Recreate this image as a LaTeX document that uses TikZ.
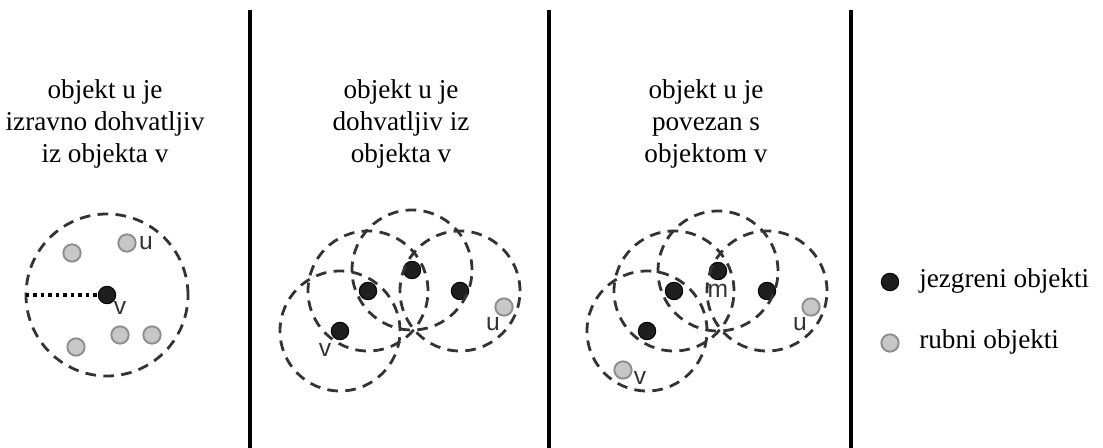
\documentclass[tikz,border=0pt]{standalone}
\usepackage{fontspec}
\setmainfont{Liberation Serif}
\newfontfamily\lblfont{Liberation Sans}
\usetikzlibrary{positioning}

\tikzset{
  core/.style   = {circle, fill=black!88, draw=black, line width=0.8pt, minimum size=13pt, inner sep=0pt},
  border/.style = {circle, fill=black!22, draw=black!45, line width=1.4pt, minimum size=13pt, inner sep=0pt},
  reach/.style  = {draw=black!80, line width=2.1pt, dash pattern=on 8pt off 5.5pt},
  wall/.style   = {line width=2.6pt},
  title/.style  = {font=\fontsize{20.4}{24}\selectfont, align=center, inner sep=0pt, anchor=north},
  lbl/.style    = {font=\lblfont\fontsize{18.5}{18.5}\selectfont, inner sep=0pt, text=black!80},
  legend/.style = {font=\fontsize{20.4}{24}\selectfont, inner sep=0pt, anchor=base west}
}

\begin{document}
\begin{tikzpicture}[x=0.75pt, y=-0.75pt]
    \useasboundingbox (0,0) rectangle (1103,448);

    % separators
    \coordinate (w1t) at (250,10);  \coordinate (w1b) at (250,448);
    \coordinate (w2t) at (549,10);  \coordinate (w2b) at (549,448);
    \coordinate (w3t) at (851,10);  \coordinate (w3b) at (851,448);
    \draw[wall] (w1t) -- (w1b);
    \draw[wall] (w2t) -- (w2b);
    \draw[wall] (w3t) -- (w3b);

    % titles
    \node[title] (t1) at (105,79) {objekt u je\\izravno dohvatljiv\\iz objekta v};
    \node[title] (t2) at (401,79) {objekt u je\\dohvatljiv iz\\objekta v};
    \node[title] (t3) at (706,79) {objekt u je\\povezan s\\objektom v};

    % panel 1
    \node[core] (v1) at (107,295) {};
    \draw[reach] (v1) circle (60.75pt);
    \coordinate (r1) at ([xshift=-60.75pt]v1.center);
    \draw[line width=2.8pt, dash pattern=on 2.6pt off 3pt] (r1) -- (v1);
    \node[border] (u1) at (127,243) {};
    \node[border] (b11) at (72,253) {};
    \node[border] (b12) at (120,335) {};
    \node[border] (b13) at (152,335) {};
    \node[border] (b14) at (76,347) {};
    \node[lbl] (v1l) at ([shift={(13,13)}]v1) {v};
    \node[lbl] (u1l) at ([shift={(19,0)}]u1) {u};

    % panel 2
    \node[core] (a2) at (340,331) {};
    \node[core] (b2) at (368,291) {};
    \node[core] (c2) at (412,270) {};
    \node[core] (d2) at (460,291) {};
    \foreach \n in {a2,b2,c2,d2}
        \draw[reach] (\n) circle (45pt);
    \node[border] (u2) at (504,307) {};
    \node[lbl] (v2l) at ([shift={(-15,19)}]a2) {v};
    \node[lbl] (u2l) at ([shift={(-11,17)}]u2) {u};

    % panel 3
    \node[core] (a3) at (647,331) {};
    \node[core] (b3) at (674,291) {};
    \node[core] (c3) at (718,271) {};
    \node[core] (d3) at (767,291) {};
    \foreach \n in {a3,b3,c3,d3}
        \draw[reach] (\n) circle (45pt);
    \node[border] (u3) at (811,307) {};
    \node[border] (v3) at (623,370) {};
    \node[lbl] (m3l) at ([shift={(0,20)}]c3) {m};
    \node[lbl] (u3l) at ([shift={(-11,17)}]u3) {u};
    \node[lbl] (v3l) at ([shift={(17,8)}]v3) {v};

    % legend
    \node[core] (kc) at (890,282) {};
    \node[border] (kb) at (890,343) {};
    \node[legend] (kct) at (919,288) {jezgreni objekti};
    \node[legend] (kbt) at (919,349) {rubni objekti};
\end{tikzpicture}
\end{document}
